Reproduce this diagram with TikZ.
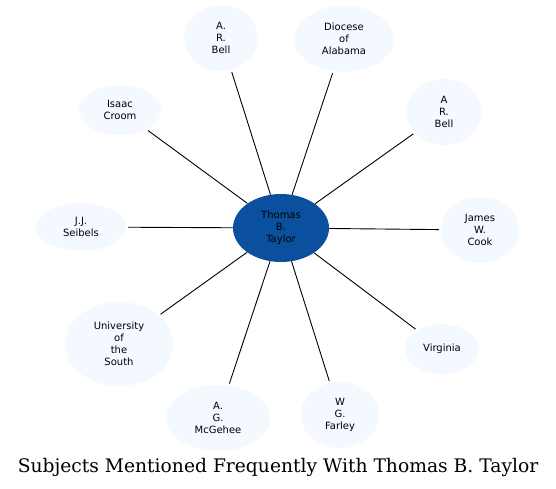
\documentclass[tikz,border=0pt]{standalone}
\usepackage{fontspec}
\setmainfont{DejaVu Sans}
\newfontfamily\titlefont{DejaVu Serif}
\usetikzlibrary{shapes.geometric}
\definecolor{hubcolor}{RGB}{10,80,158}
\definecolor{leafcolor}{RGB}{244,248,255}

\begin{document}
\begin{tikzpicture}[x=1pt, y=-1pt,
  hub/.style={ellipse, fill=hubcolor, inner sep=0pt, align=center,
              font=\fontsize{10}{12}\selectfont},
  leaf/.style={ellipse, fill=leafcolor, inner sep=0pt, align=center,
               font=\fontsize{10}{12}\selectfont},
  link/.style={black, line width=0.9pt, shorten >=2pt}
]
\useasboundingbox (0,0) rectangle (556,489);

% Center
\node[hub, minimum width=96pt, minimum height=68pt] (taylor) at (281,228)
     {Thomas\\B.\\Taylor};

% Subjects
\node[leaf, minimum width=74pt, minimum height=66pt] (bella) at (221,38)
     {A.\\R.\\Bell};
\node[leaf, minimum width=100pt, minimum height=66pt] (diocese) at (344,39)
     {Diocese\\of\\Alabama};
\node[leaf, minimum width=74pt, minimum height=66pt] (bellb) at (444,112)
     {A\\R.\\Bell};
\node[leaf, minimum width=78pt, minimum height=66pt] (cook) at (480,230)
     {James\\W.\\Cook};
\node[leaf, minimum width=74pt, minimum height=50pt] (virginia) at (442,349)
     {Virginia};
\node[leaf, minimum width=78pt, minimum height=66pt] (farley) at (340,415)
     {W\\G.\\Farley};
\node[leaf, minimum width=104pt, minimum height=66pt] (mcgehee) at (218,418)
     {A.\\G.\\McGehee};
\node[leaf, minimum width=108pt, minimum height=84pt] (sewanee) at (119,344)
     {University\\of\\the\\South};
\node[leaf, minimum width=90pt, minimum height=48pt] (seibels) at (81,227)
     {J.J.\\Seibels};
\node[leaf, minimum width=82pt, minimum height=50pt] (croom) at (120,110)
     {Isaac\\Croom};

% Links
\foreach \n in {bella,diocese,bellb,cook,virginia,farley,mcgehee,sewanee,seibels,croom}
  \draw[link] (taylor) -- (\n);

% Title
\node[font=\titlefont\fontsize{18.7}{22}\selectfont] (title) at (278,467)
     {Subjects Mentioned Frequently With Thomas B. Taylor};

\end{tikzpicture}
\end{document}
